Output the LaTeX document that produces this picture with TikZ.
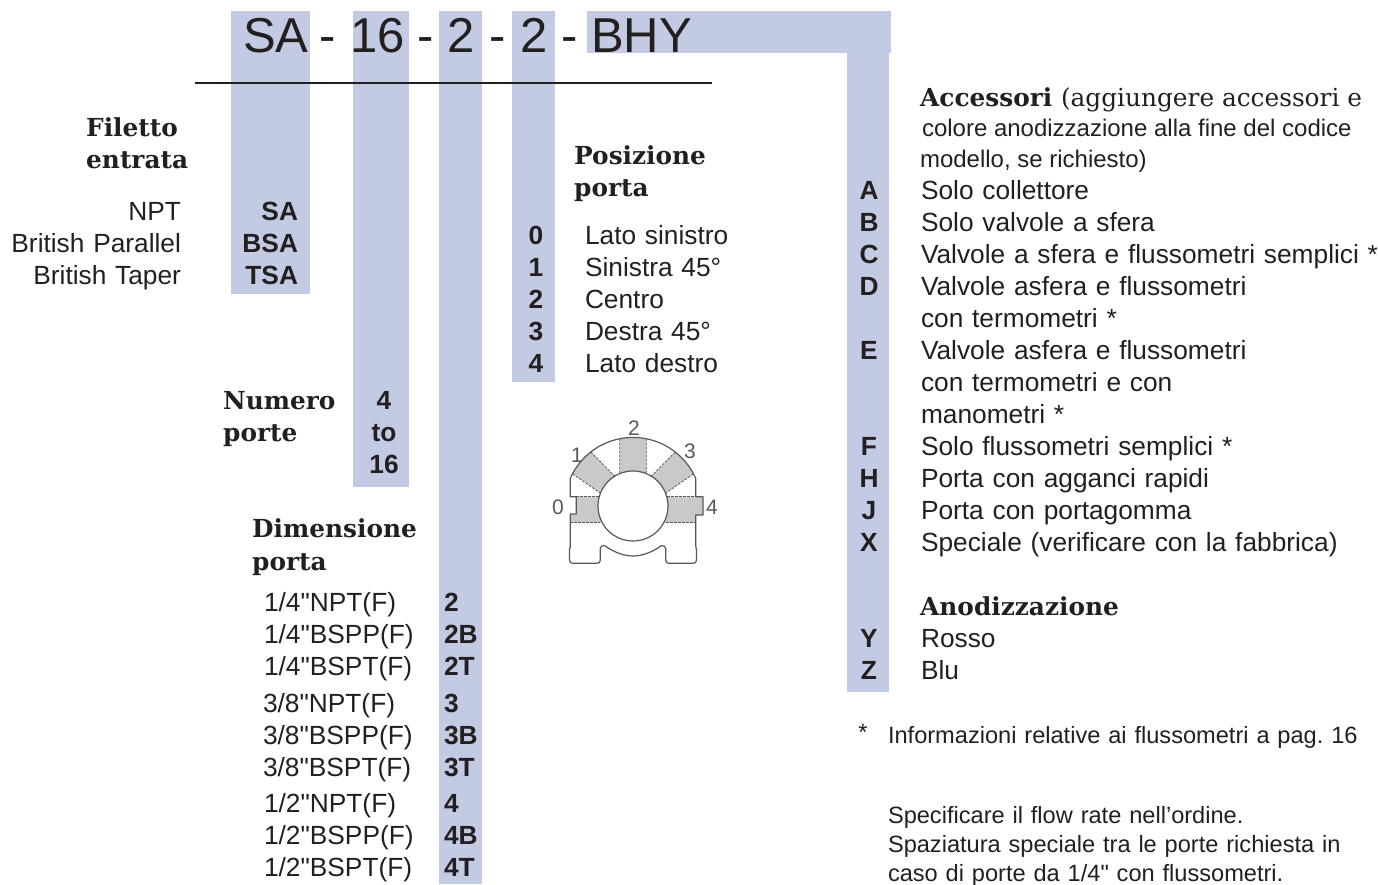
\documentclass[tikz,border=0pt]{standalone}
\usepackage{fontspec}
\usepackage{xcolor}
\usetikzlibrary{positioning}
\setmainfont{Liberation Sans}
\newfontfamily\titlefont{DejaVu Serif}
\newfontfamily\plainsans{Liberation Sans}
\newcommand{\inchmark}{{\plainsans"}}
\definecolor{barblue}{HTML}{C2CBE3}
\definecolor{inkdark}{HTML}{231F20}
\definecolor{knobgray}{HTML}{C8C9CA}
\definecolor{knobline}{HTML}{58585A}
\tikzset{
  bar/.style={fill=barblue},
  rowbase/.style={inner sep=0pt, outer sep=0pt, text height=20pt, text depth=6pt, text=inkdark, font=\fontsize{26.3}{30}\selectfont},
  row/.style={rowbase, text width=#1, align=left},
  row/.default=490pt,
  rowr/.style={rowbase, text width=190pt, align=right},
  code/.style={rowbase, text width=70pt, align=left, font=\fontsize{26.3}{30}\selectfont\bfseries},
  coder/.style={rowbase, text width=70pt, align=right, font=\fontsize{26.3}{30}\selectfont\bfseries},
  codec/.style={rowbase, text width=40pt, align=center, font=\fontsize{26.3}{30}\selectfont\bfseries},
  title/.style={inner sep=0pt, text=inkdark, anchor=base west, font=\titlefont\fontsize{24.8}{30}\selectfont\bfseries},
  head/.style={inner sep=0pt, text=inkdark, anchor=base west, font=\fontsize{49}{50}\selectfont},
  note/.style={rowbase, text width=480pt, align=left, font=\fontsize{23.6}{29}\selectfont},
  knobnum/.style={inner sep=0pt, text=knobline, font=\fontsize{21}{21}\selectfont},
  knobedge/.style={draw=knobline, line width=1.2pt, line join=round},
  knobdash/.style={draw=knobline, line width=0.8pt, dash pattern=on 2.5pt off 1.5pt},
}
\begin{document}
\frenchspacing
\begin{tikzpicture}[x=1pt, y=-1pt, node distance=6pt]
  \useasboundingbox (0,0) rectangle (1378,884);

  % Bars
  \fill[bar] (231,11) rectangle (310,294);
  \fill[bar] (353,11) rectangle (409,487);
  \fill[bar] (439,11) rectangle (482,884);
  \fill[bar] (512,11) rectangle (555,382);
  \fill[bar] (587,11) rectangle (891,53);
  \fill[bar] (847,53) rectangle (889,692);

  % Model code
  \node[head] (code_sa) at (243,52) {SA};
  \node[head] (dash_1) at (319,52) {-};
  \node[head] (code_16) at (350,52) {16};
  \node[head] (dash_2) at (417,52) {-};
  \node[head] (code_size) at (447,52) {2};
  \node[head] (dash_3) at (489,52) {-};
  \node[head] (code_pos) at (520,52) {2};
  \node[head] (dash_4) at (561,52) {-};
  \node[head] (code_bhy) at (591,52) {BHY};

  \coordinate (rule_l) at (195,83);
  \coordinate (rule_r) at (712,83);
  \draw[inkdark, line width=2.8pt] (rule_l) -- (rule_r);

  % Filetto entrata
  \node[title] (thread_a) at (86,136) {Filetto};
  \node[title] (thread_b) at (86,168) {entrata};
  \node[rowr, anchor=base east] (npt) at (181,220) {NPT};
  \node[rowr, below=of npt] (bsp) {British Parallel};
  \node[rowr, below=of bsp] (bst) {British Taper};
  \node[coder, anchor=base east] (sa) at (298,220) {SA};
  \node[coder, below=of sa] (bsa) {BSA};
  \node[coder, below=of bsa] (tsa) {TSA};

  % Numero porte
  \node[title] (ports_a) at (223,409) {Numero};
  \node[title] (ports_b) at (223,441) {porte};
  \node[codec, anchor=base] (p_4) at (384,409) {4};
  \node[codec, below=of p_4] (p_to) {to};
  \node[codec, below=of p_to] (p_16) {16};

  % Dimensione porta
  \node[title] (size_a) at (252,537) {Dimensione};
  \node[title] (size_b) at (252,570) {porta};
  \node[row=170pt, anchor=base west] (s_2) at (264,611) {1/4\inchmark NPT(F)};
  \node[row=170pt, below=of s_2] (s_2b) {1/4\inchmark BSPP(F)};
  \node[row=170pt, below=of s_2b] (s_2t) {1/4\inchmark BSPT(F)};
  \node[row=170pt, below=11pt of s_2t, xshift=-1pt] (s_3) {3/8\inchmark NPT(F)};
  \node[row=170pt, below=of s_3] (s_3b) {3/8\inchmark BSPP(F)};
  \node[row=170pt, below=of s_3b] (s_3t) {3/8\inchmark BSPT(F)};
  \node[row=170pt, below=10pt of s_3t, xshift=1pt] (s_4) {1/2\inchmark NPT(F)};
  \node[row=170pt, below=of s_4] (s_4b) {1/2\inchmark BSPP(F)};
  \node[row=170pt, below=of s_4b] (s_4t) {1/2\inchmark BSPT(F)};
  \node[code, anchor=base west] (c_2) at (444,611) {2};
  \node[code, below=of c_2] (c_2b) {2B};
  \node[code, below=of c_2b] (c_2t) {2T};
  \node[code, below=11pt of c_2t] (c_3) {3};
  \node[code, below=of c_3] (c_3b) {3B};
  \node[code, below=of c_3b] (c_3t) {3T};
  \node[code, below=10pt of c_3t] (c_4) {4};
  \node[code, below=of c_4] (c_4b) {4B};
  \node[code, below=of c_4b] (c_4t) {4T};

  % Posizione porta
  \node[title] (pos_a) at (574,164) {Posizione};
  \node[title] (pos_b) at (574,196) {porta};
  \node[row=190pt, anchor=base west] (left_side) at (585,244) {Lato sinistro};
  \node[row=190pt, below=of left_side] (left_45) {Sinistra 45°};
  \node[row=190pt, below=of left_45] (centre) {Centro};
  \node[row=190pt, below=of centre] (right_45) {Destra 45°};
  \node[row=190pt, below=of right_45] (right_side) {Lato destro};
  \node[codec, anchor=base] (n_0) at (536,244) {0};
  \node[codec, below=of n_0] (n_1) {1};
  \node[codec, below=of n_1] (n_2) {2};
  \node[codec, below=of n_2] (n_3) {3};
  \node[codec, below=of n_3] (n_4) {4};

  % Knob
  \begin{scope}[shift={(633,506)}, y=1pt]
    \fill[knobgray] (78.8:68.5) arc (78.8:101.2:68.5) -- (112.3:35) arc (112.3:67.7:35) -- cycle;
    \fill[knobgray] (128:68.5) arc (128:152:68.5) -- (158.5:35) arc (158.5:121.5:35) -- cycle;
    \fill[knobgray] (52:68.5) arc (52:28:68.5) -- (21.5:35) arc (21.5:58.5:35) -- cycle;
    \fill[knobgray] (-56.7,9.3) -- (-30,9.3) -- (-30,-16.7) -- (-62.7,-16.7) -- (-62.7,-8) -- (-56.7,-8) -- cycle;
    \fill[knobgray] (30,9.3) -- (62.7,9.3) -- (70,9.3) -- (70,-9) -- (62.7,-9) -- (62.7,-16.7) -- (30,-16.7) -- cycle;
    \draw[knobdash] (78.8:68.5) -- (67.7:35) (101.2:68.5) -- (112.3:35);
    \draw[knobdash] (128:68.5) -- (121.5:35) (152:68.5) -- (158.5:35);
    \draw[knobdash] (52:68.5) -- (58.5:35) (28:68.5) -- (21.5:35);
    \draw[knobdash] (-56.7,9.3) -- (-34,9.3) (-62.7,-16.7) -- (-33,-16.7);
    \draw[knobdash] (34,9.3) -- (62.7,9.3) (33,-16.7) -- (62.7,-16.7);
    \draw[knobedge, fill=white] (0,0) circle (35);
    \draw[knobedge] (-62.7,27.7) arc (156.2:23.8:68.5)
      -- (62.7,9.3) -- (70,9.3) -- (70,-9) -- (62.7,-9) -- (62.7,-40) -- (63.5,-44)
      -- (63.5,-54) .. controls (63.5,-56.5) and (62,-57.3) .. (60,-57.3)
      -- (36,-57.3) .. controls (34,-57.3) and (32.7,-56.5) .. (32.7,-54)
      -- (32.7,-42) .. controls (32.7,-40) and (30,-39.5) .. (28.3,-39.7)
      .. controls (18,-47) and (8,-50) .. (0,-50)
      .. controls (-8,-50) and (-18,-47) .. (-28.3,-39.7)
      .. controls (-30,-39.5) and (-32.7,-40) .. (-32.7,-42)
      -- (-32.7,-54) .. controls (-32.7,-56.5) and (-34,-57.3) .. (-36,-57.3)
      -- (-60,-57.3) .. controls (-62,-57.3) and (-63.5,-56.5) .. (-63.5,-54)
      -- (-63.5,-44) -- (-62.7,-40) -- (-62.7,-8) -- (-56.7,-8) -- (-56.7,9.3) -- (-62.7,9.3) -- cycle;
  \end{scope}
  \node[knobnum] (knob_0) at (558,507) {0};
  \node[knobnum] (knob_1) at (577,455) {1};
  \node[knobnum] (knob_2) at (634,428) {2};
  \node[knobnum] (knob_3) at (690,451) {3};
  \node[knobnum] (knob_4) at (712,507) {4};

  % Accessori
  \node[title] (acc_a) at (920,106) {Accessori \titlefont\mdseries (aggiungere accessori e};
  \node[rowbase, anchor=base west] (acc_b) at (922,136) {\fontsize{24}{29}\selectfont colore anodizzazione alla fine del codice};
  \node[rowbase, anchor=base west] (acc_c) at (920,167) {\fontsize{24}{29}\selectfont modello, se richiesto)};
  \node[row, anchor=base west] (acc_1) at (921,199) {Solo collettore};
  \node[row, below=of acc_1] (acc_2) {Solo valvole a sfera};
  \node[row, below=of acc_2] (acc_3) {Valvole a sfera e flussometri semplici *};
  \node[row, below=of acc_3] (acc_4) {Valvole asfera e flussometri};
  \node[row, below=of acc_4] (acc_4b) {con termometri *};
  \node[row, below=of acc_4b] (acc_5) {Valvole asfera e flussometri};
  \node[row, below=of acc_5] (acc_5b) {con termometri e con};
  \node[row, below=of acc_5b] (acc_5c) {manometri *};
  \node[row, below=of acc_5c] (acc_6) {Solo flussometri semplici *};
  \node[row, below=of acc_6] (acc_7) {Porta con agganci rapidi};
  \node[row, below=of acc_7] (acc_8) {Porta con portagomma};
  \node[row, below=of acc_8] (acc_9) {Speciale (verificare con la fabbrica)};

  \node[codec, anchor=base] (l_a) at (869,199) {A};
  \node[codec, below=of l_a] (l_b) {B};
  \node[codec, below=of l_b] (l_c) {C};
  \node[codec, below=of l_c] (l_d) {D};
  \node[codec, below=38pt of l_d] (l_e) {E};
  \node[codec, below=70pt of l_e] (l_f) {F};
  \node[codec, below=of l_f] (l_h) {H};
  \node[codec, below=of l_h] (l_j) {J};
  \node[codec, below=of l_j] (l_x) {X};

  % Anodizzazione
  \node[title] (ano) at (920,615) {Anodizzazione};
  \node[row, anchor=base west] (red) at (921,647) {Rosso};
  \node[row, below=of red] (blue) {Blu};
  \node[codec, anchor=base] (l_y) at (869,647) {Y};
  \node[codec, below=of l_y] (l_z) {Z};

  % Notes
  \node[inner sep=0pt, text=inkdark, font=\fontsize{23.6}{29}\selectfont] (star) at (863,732) {*};
  \node[note, anchor=base west] (note_a) at (888,743) {Informazioni relative ai flussometri a pag. 16};
  \node[note, anchor=base west] (note_b) at (888,823) {Specificare il flow rate nell’ordine.};
  \node[note, below=3pt of note_b] (note_c) {Spaziatura speciale tra le porte richiesta in};
  \node[note, below=3pt of note_c] (note_d) {caso di porte da 1/4\inchmark{} con flussometri.};
\end{tikzpicture}
\end{document}
